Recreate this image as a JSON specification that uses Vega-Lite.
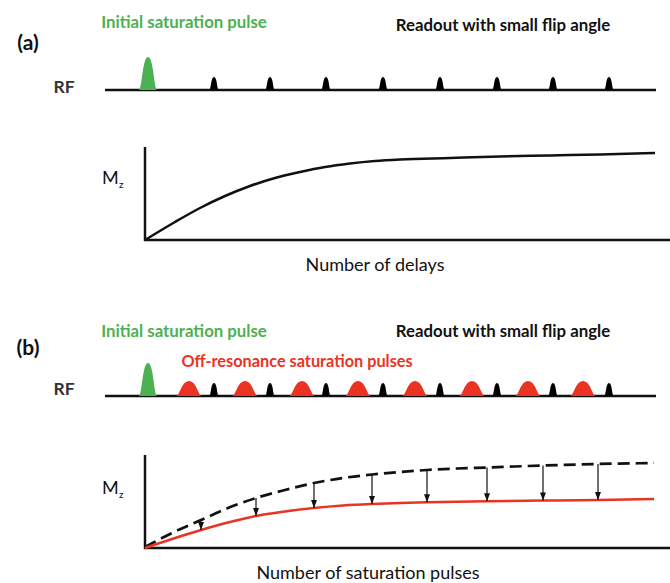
{
  "$schema": "https://vega.github.io/schema/vega-lite/v6.json",
  "width": 670,
  "height": 583,
  "padding": 0,
  "autosize": {"type": "none"},
  "background": "white",
  "config": {"view": {"stroke": null}, "font": "Lato"},
  "datasets": {
    "baselines": [{"x": 105, "x2": 656, "y": 90}, {"x": 105, "x2": 656, "y": 396}],
    "axes": [
      {"x": 145, "y": 147, "x2": 145, "y2": 241},
      {"x": 144, "y": 240, "x2": 670, "y2": 240},
      {"x": 145, "y": 455, "x2": 145, "y2": 549},
      {"x": 144, "y": 548, "x2": 670, "y2": 548}
    ],
    "green": [{"x": 148, "y": 90}, {"x": 148, "y": 396}],
    "readout": [
      {"x": 214, "y": 90}, {"x": 270, "y": 90}, {"x": 326, "y": 90}, {"x": 383, "y": 90},
      {"x": 440, "y": 90}, {"x": 497, "y": 90}, {"x": 553, "y": 90}, {"x": 609, "y": 90},
      {"x": 214, "y": 396}, {"x": 270, "y": 396}, {"x": 326, "y": 396}, {"x": 383, "y": 396},
      {"x": 440, "y": 396}, {"x": 497, "y": 396}, {"x": 553, "y": 396}, {"x": 609, "y": 396}
    ],
    "offres": [
      {"x": 189, "y": 396}, {"x": 245, "y": 396}, {"x": 302, "y": 396}, {"x": 358, "y": 396},
      {"x": 415, "y": 396}, {"x": 472, "y": 396}, {"x": 528, "y": 396}, {"x": 583, "y": 396}
    ],
    "curveA": [
      {"x": 145, "y": 240}, {"x": 175, "y": 222}, {"x": 200, "y": 208}, {"x": 225, "y": 196},
      {"x": 250, "y": 186}, {"x": 275, "y": 178}, {"x": 300, "y": 172}, {"x": 325, "y": 167},
      {"x": 350, "y": 163.5}, {"x": 375, "y": 161}, {"x": 400, "y": 159.5}, {"x": 450, "y": 158},
      {"x": 500, "y": 156.5}, {"x": 550, "y": 155.5}, {"x": 600, "y": 154.5}, {"x": 655, "y": 153}
    ],
    "dashedB": [
      {"x": 145, "y": 547}, {"x": 172, "y": 533}, {"x": 201, "y": 520}, {"x": 228, "y": 508},
      {"x": 256, "y": 498}, {"x": 285, "y": 490}, {"x": 314, "y": 483}, {"x": 343, "y": 478},
      {"x": 372, "y": 474.5}, {"x": 400, "y": 472}, {"x": 427, "y": 470}, {"x": 457, "y": 468.5},
      {"x": 487, "y": 467.5}, {"x": 543, "y": 465.5}, {"x": 598, "y": 464}, {"x": 654, "y": 463}
    ],
    "redB": [
      {"x": 145, "y": 548}, {"x": 172, "y": 539}, {"x": 201, "y": 530}, {"x": 228, "y": 522.5},
      {"x": 256, "y": 516}, {"x": 285, "y": 511.5}, {"x": 314, "y": 508}, {"x": 343, "y": 505.5},
      {"x": 372, "y": 504}, {"x": 400, "y": 503}, {"x": 427, "y": 502.3}, {"x": 487, "y": 501.2},
      {"x": 543, "y": 500.5}, {"x": 598, "y": 500}, {"x": 654, "y": 499}
    ],
    "arrows": [
      {"x": 201, "y": 520, "y2": 530}, {"x": 256, "y": 498, "y2": 516},
      {"x": 314, "y": 483, "y2": 508}, {"x": 372, "y": 474.5, "y2": 504},
      {"x": 427, "y": 470, "y2": 502.3}, {"x": 487, "y": 467.5, "y2": 501.2},
      {"x": 543, "y": 465.5, "y2": 500.5}, {"x": 598, "y": 464, "y2": 500}
    ],
    "panelLabels": [{"x": 28, "y": 44, "t": "(a)"}, {"x": 28, "y": 349, "t": "(b)"}],
    "greenLabels": [{"x": 184, "y": 23, "t": "Initial saturation pulse"}, {"x": 184, "y": 332, "t": "Initial saturation pulse"}],
    "blackLabels": [{"x": 503, "y": 26, "t": "Readout with small flip angle"}, {"x": 503, "y": 332, "t": "Readout with small flip angle"}],
    "redLabels": [{"x": 297, "y": 362, "t": "Off-resonance saturation pulses"}],
    "rfLabels": [{"x": 64, "y": 88, "t": "RF"}, {"x": 64, "y": 390, "t": "RF"}],
    "axisTitles": [{"x": 375, "y": 266, "t": "Number of delays"}, {"x": 368, "y": 574, "t": "Number of saturation pulses"}],
    "mLabels": [{"x": 102, "y": 179, "t": "M"}, {"x": 102, "y": 489, "t": "M"}],
    "zLabels": [{"x": 119, "y": 185, "t": "z"}, {"x": 119, "y": 495, "t": "z"}]
  },
  "encoding": {
    "x": {"field": "x", "type": "quantitative", "scale": {"domain": [0, 670], "nice": false, "zero": false}, "axis": null},
    "y": {"field": "y", "type": "quantitative", "scale": {"domain": [0, 583], "nice": false, "zero": false, "reverse": true}, "axis": null}
  },
  "layer": [
    {"data": {"name": "baselines"}, "mark": {"type": "rule", "stroke": "#111111", "strokeWidth": 2.5}, "encoding": {"x2": {"field": "x2"}}},
    {"data": {"name": "axes"}, "mark": {"type": "rule", "stroke": "#111111", "strokeWidth": 2.5}, "encoding": {"x2": {"field": "x2"}, "y2": {"field": "y2"}}},
    {"data": {"name": "green"}, "mark": {"type": "point", "shape": "M-0.56,0 C-0.35,0 -0.35,-2 0,-2 C0.35,-2 0.35,0 0.56,0 Z", "size": 1089, "filled": true, "fill": "#4cb152", "strokeWidth": 0, "opacity": 1}},
    {"data": {"name": "readout"}, "mark": {"type": "point", "shape": "M-0.75,0 C-0.45,0 -0.5,-2 0,-2 C0.5,-2 0.45,0 0.75,0 Z", "size": 169, "filled": true, "fill": "#000000", "strokeWidth": 0, "opacity": 1}},
    {"data": {"name": "offres"}, "mark": {"type": "point", "shape": "M-1.7,0 C-1.25,0 -1.0,-2 0,-2 C1.0,-2 1.25,0 1.7,0 Z", "size": 225, "filled": true, "fill": "#ea3323", "strokeWidth": 0, "opacity": 1}},
    {"data": {"name": "curveA"}, "mark": {"type": "line", "interpolate": "monotone", "stroke": "#111111", "strokeWidth": 2.5}},
    {"data": {"name": "dashedB"}, "mark": {"type": "line", "interpolate": "monotone", "stroke": "#111111", "strokeWidth": 2.7, "strokeDash": [12, 6]}},
    {"data": {"name": "redB"}, "mark": {"type": "line", "interpolate": "monotone", "stroke": "#ea3323", "strokeWidth": 2.5}},
    {"data": {"name": "arrows"}, "mark": {"type": "rule", "stroke": "#111111", "strokeWidth": 1.2}, "encoding": {"y2": {"field": "y2"}}},
    {"data": {"name": "arrows"}, "mark": {"type": "point", "shape": "M0,0 L-0.6,-1.6 L0.6,-1.6 Z", "size": 100, "filled": true, "fill": "#111111", "strokeWidth": 0, "opacity": 1}, "encoding": {"y": {"field": "y2", "type": "quantitative"}}},
    {"data": {"name": "panelLabels"}, "mark": {"type": "text", "fontSize": 21, "fontWeight": "bold", "fill": "#111111", "align": "center", "baseline": "middle"}, "encoding": {"text": {"field": "t"}}},
    {"data": {"name": "greenLabels"}, "mark": {"type": "text", "fontSize": 16.8, "fontWeight": "bold", "fill": "#4cb152", "align": "center", "baseline": "middle"}, "encoding": {"text": {"field": "t"}}},
    {"data": {"name": "blackLabels"}, "mark": {"type": "text", "fontSize": 16.8, "fontWeight": "bold", "fill": "#111111", "align": "center", "baseline": "middle"}, "encoding": {"text": {"field": "t"}}},
    {"data": {"name": "redLabels"}, "mark": {"type": "text", "fontSize": 16.3, "fontWeight": "bold", "fill": "#ea3323", "align": "center", "baseline": "middle"}, "encoding": {"text": {"field": "t"}}},
    {"data": {"name": "rfLabels"}, "mark": {"type": "text", "fontSize": 17.5, "fontWeight": "bold", "fill": "#333333", "align": "center", "baseline": "middle"}, "encoding": {"text": {"field": "t"}}},
    {"data": {"name": "axisTitles"}, "mark": {"type": "text", "fontSize": 18, "fill": "#111111", "align": "center", "baseline": "middle"}, "encoding": {"text": {"field": "t"}}},
    {"data": {"name": "mLabels"}, "mark": {"type": "text", "fontSize": 18, "fill": "#111111", "align": "left", "baseline": "middle"}, "encoding": {"text": {"field": "t"}}},
    {"data": {"name": "zLabels"}, "mark": {"type": "text", "fontSize": 10, "fill": "#111111", "align": "left", "baseline": "middle"}, "encoding": {"text": {"field": "t"}}}
  ]
}
